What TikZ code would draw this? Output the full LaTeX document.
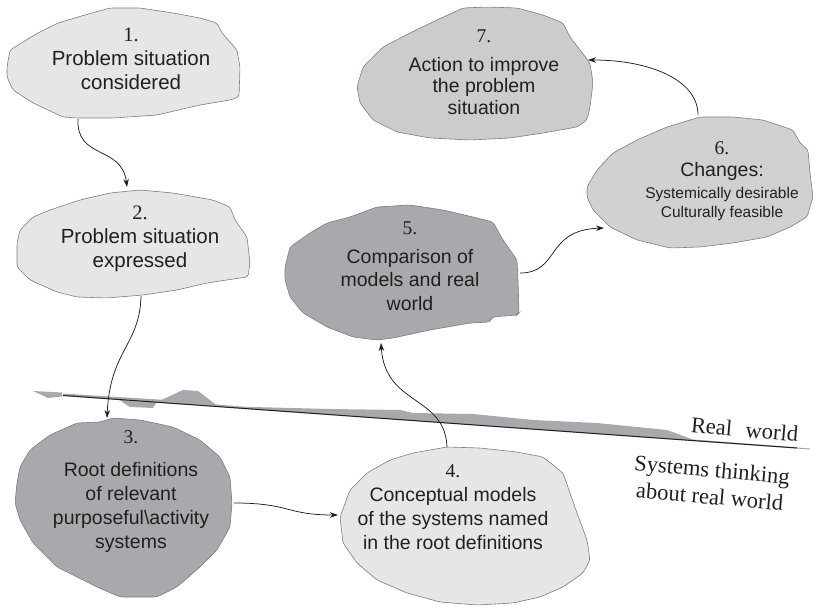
\documentclass[tikz,border=0pt]{standalone}
\usepackage{fontspec}
\setmainfont{Liberation Serif}
\setsansfont{Liberation Sans}
\usetikzlibrary{arrows.meta}
\definecolor{paleblob}{RGB}{229,230,231}
\definecolor{midblob}{RGB}{203,204,206}
\definecolor{darkblob}{RGB}{167,169,172}
\definecolor{ribbon}{RGB}{167,169,172}
\definecolor{rim}{RGB}{125,125,127}
\definecolor{ink}{RGB}{35,31,32}

\begin{document}
\begin{tikzpicture}[x=1pt,y=-1pt,
  blob/.style={draw=rim, line width=0.6pt, rounded corners=3pt},
  lbl/.style={align=center, font=\sffamily\fontsize{19.5}{24}\selectfont, text=ink, inner sep=0pt},
  flow/.style={draw=ink, line width=0.75pt, -{Stealth[length=8pt,width=5.5pt]}},
  side/.style={font=\rmfamily\fontsize{22.5}{27}\selectfont, align=center, text=ink, rotate=-5, inner sep=0pt}
]
\useasboundingbox (0,0) rectangle (820,609);

% ---- stage outlines ----
\path[blob, fill=paleblob] (7,67)--(10,50)--(23,42)--(38,33)--(58,23)--(85,15)--(110,8)--(140,8)--(173,13)--(200,18)--(217,23)--(222,33)--(237,50)--(240,67)--(239,97)--(230,100)--(200,105)--(157,115)--(113,118)--(77,118)--(63,117)--(33,103)--(13,90)--(7,77)--cycle;
\path[blob, fill=paleblob] (17,243)--(20,230)--(33,217)--(50,210)--(80,200)--(110,193)--(140,190)--(173,193)--(213,200)--(230,207)--(235,220)--(247,237)--(250,263)--(248,277)--(240,278)--(207,283)--(177,290)--(143,295)--(107,298)--(77,297)--(57,292)--(30,280)--(17,267)--cycle;
\path[blob, fill=darkblob] (17,483)--(20,467)--(30,450)--(50,435)--(77,423)--(100,422)--(113,418)--(140,420)--(173,427)--(200,440)--(220,457)--(230,477)--(232,503)--(230,527)--(217,550)--(200,567)--(177,587)--(157,597)--(120,597)--(97,587)--(57,567)--(33,543)--(20,520)--(15,503)--cycle;
\path[blob, fill=paleblob] (340,517)--(350,490)--(367,473)--(390,460)--(413,453)--(447,447)--(480,448)--(517,452)--(543,457)--(563,473)--(570,493)--(577,513)--(587,540)--(590,560)--(583,573)--(563,587)--(540,597)--(513,603)--(477,605)--(440,602)--(407,593)--(377,580)--(357,563)--(343,543)--cycle;
\path[blob, fill=darkblob] (285,267)--(290,247)--(310,233)--(327,223)--(350,217)--(377,207)--(410,205)--(443,210)--(473,217)--(493,222)--(503,240)--(517,260)--(518,280)--(519,313)--(517,315)--(492,317)--(490,322)--(470,323)--(430,330)--(393,338)--(377,340)--(353,337)--(327,327)--(303,313)--(290,297)--(285,280)--cycle;
\path[blob, fill=midblob!90!white] (587,187)--(597,170)--(613,153)--(637,140)--(667,127)--(700,117)--(733,117)--(763,120)--(793,130)--(800,143)--(808,150)--(810,173)--(813,197)--(807,217)--(790,227)--(767,237)--(733,243)--(700,247)--(670,248)--(637,240)--(610,227)--(593,210)--(587,197)--cycle;
\path[blob, fill=midblob] (357,87)--(363,67)--(383,47)--(410,33)--(437,20)--(463,8)--(487,7)--(517,8)--(543,15)--(563,23)--(570,37)--(580,50)--(590,63)--(593,83)--(590,107)--(587,120)--(577,127)--(543,133)--(510,138)--(470,140)--(430,138)--(397,132)--(373,120)--(360,103)--cycle;

% ---- boundary between the real world and systems thinking ----
\fill[ribbon] (33,391)--(62,392.5)--(62,396.5)--(48,398)--cycle;
\fill[ribbon] (117,398.5)--(130,407)--(153,408)--(157,401.5)--cycle;
\fill[ribbon] (158,401.5)--(170,396)--(183,390)--(198,391)--(217,405.5)--cycle;
\fill[ribbon] (63,393.5)--(110,396.5)--(158,399.5)--(217,404.5)--(245,406.8)--(330,409)--(400,410)--(413,413)--(473,414)--(533,420)--(597,423)--(667,430)--(693,439.5)--(810,448.5)--(810,449.5)--(63,396)--cycle;
\draw[ink, line width=1pt] (63,395.5) -- (797,448);

% ---- stage texts ----
\node[lbl, font=\sffamily\fontsize{20.5}{24}\selectfont] (b1) at (131,59) {{\rmfamily 1.}\\Problem situation\\considered};
\node[lbl, font=\sffamily\fontsize{20.5}{24}\selectfont] (b2) at (140,239) {{\rmfamily 2.}\\Problem situation\\expressed};
\node[lbl] (b3) at (131,492) {{\rmfamily 3.}\\[9pt]Root definitions\\of relevant\\purposeful\textbackslash activity\\systems};
\node[lbl] (b4) at (453,507) {{\rmfamily 4.}\\Conceptual models\\of the systems named\\in the root definitions};
\node[lbl, font=\sffamily\fontsize{19.5}{23.5}\selectfont] (b5) at (410,266) {{\rmfamily 5.}\\[5pt]Comparison of\\models and real\\world};
\node[lbl, font=\sffamily\fontsize{19.5}{22}\selectfont] (b6) at (722,181) {{\rmfamily 6.}\\Changes:\\{\fontsize{15.5}{19}\selectfont Systemically desirable}\\[-3pt]{\fontsize{15.5}{19}\selectfont Culturally feasible}};
\node[lbl, font=\sffamily\fontsize{19.5}{21.5}\selectfont] (b7) at (484,72) {{\rmfamily 7.}\\[7pt]Action to improve\\the problem\\situation};

% ---- side labels ----
\node[side, anchor=base] (rw) at (744,437) {Real\hspace{8pt} world};
\node[side] (st) at (711,483) {Systems thinking\\about real world};

% ---- flow between stages ----
\draw[flow] ([shift={(-53,60)}]b1.center) .. controls +(-2,41) and +(-5,-42) .. ([shift={(-13,-52)}]b2.center);
\draw[flow] ([shift={(1,57)}]b2.center) .. controls +(-1,49) and +(3,-68) .. ([shift={(-24,-74)}]b3.center);
\draw[flow] ([shift={(103,11)}]b3.center) .. controls +(56,0) and +(-52,0) .. ([shift={(-115,8)}]b4.center);
\draw[flow] ([shift={(-6,-60)}]b4.center) .. controls +(-2,-52) and +(4,63) .. ([shift={(-29,77)}]b5.center);
\draw[flow] ([shift={(110,7)}]b5.center) .. controls +(40,0) and +(-59,2) .. ([shift={(-118,47)}]b6.center);
\draw[flow] ([shift={(-24,-66)}]b6.center) .. controls +(0,-35) and +(62,0) .. ([shift={(104,-12)}]b7.center);
\end{tikzpicture}
\end{document}
